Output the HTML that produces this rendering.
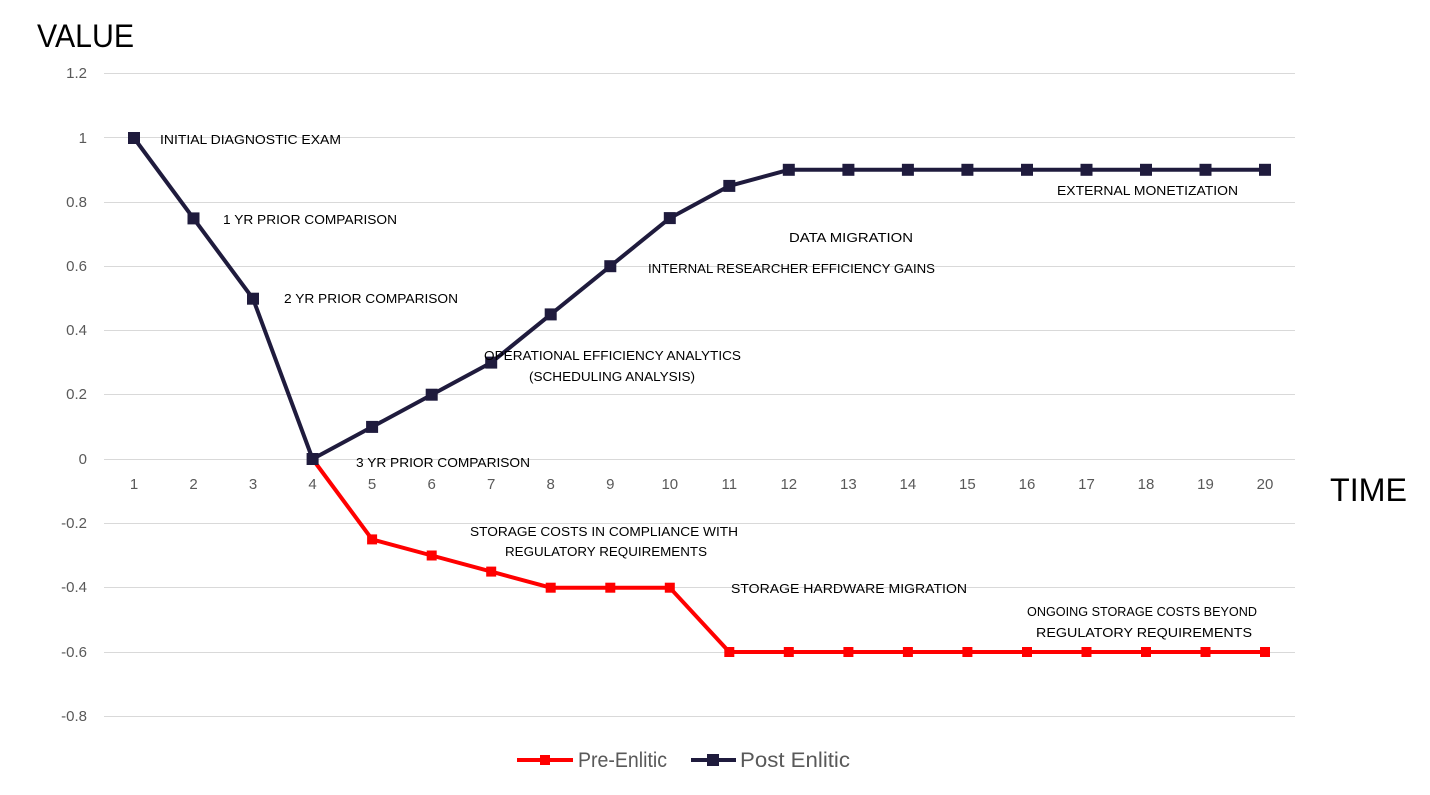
<!DOCTYPE html>
<html><head><meta charset="utf-8"><style>
html,body{margin:0;padding:0;background:#fff;}
svg{display:block;font-family:"Liberation Sans",sans-serif;}
</style></head><body>
<svg width="1430" height="795" viewBox="0 0 1430 795" xmlns="http://www.w3.org/2000/svg">
<g stroke="#d9d9d9" stroke-width="1">
<line x1="104" x2="1295" y1="73.5" y2="73.5"/>
<line x1="104" x2="1295" y1="137.5" y2="137.5"/>
<line x1="104" x2="1295" y1="202.5" y2="202.5"/>
<line x1="104" x2="1295" y1="266.5" y2="266.5"/>
<line x1="104" x2="1295" y1="330.5" y2="330.5"/>
<line x1="104" x2="1295" y1="394.5" y2="394.5"/>
<line x1="104" x2="1295" y1="459.5" y2="459.5"/>
<line x1="104" x2="1295" y1="523.5" y2="523.5"/>
<line x1="104" x2="1295" y1="587.5" y2="587.5"/>
<line x1="104" x2="1295" y1="652.5" y2="652.5"/>
<line x1="104" x2="1295" y1="716.5" y2="716.5"/>
</g>
<g fill="#595959" font-size="15" text-anchor="end">
<text x="87" y="78">1.2</text>
<text x="87" y="143">1</text>
<text x="87" y="207">0.8</text>
<text x="87" y="271">0.6</text>
<text x="87" y="335">0.4</text>
<text x="87" y="399">0.2</text>
<text x="87" y="464">0</text>
<text x="87" y="528">-0.2</text>
<text x="87" y="592">-0.4</text>
<text x="87" y="657">-0.6</text>
<text x="87" y="721">-0.8</text>
</g>
<g fill="#595959" font-size="15" text-anchor="middle">
<text x="134" y="489">1</text><text x="193.5" y="489">2</text><text x="253" y="489">3</text><text x="312.6" y="489">4</text><text x="372.1" y="489">5</text><text x="431.7" y="489">6</text><text x="491.2" y="489">7</text><text x="550.7" y="489">8</text><text x="610.3" y="489">9</text><text x="669.8" y="489">10</text><text x="729.3" y="489">11</text><text x="788.8" y="489">12</text><text x="848.4" y="489">13</text><text x="907.9" y="489">14</text><text x="967.4" y="489">15</text><text x="1027" y="489">16</text><text x="1086.5" y="489">17</text><text x="1146" y="489">18</text><text x="1205.5" y="489">19</text><text x="1265" y="489">20</text>
</g>
<text x="37" y="47" font-size="32" fill="#000" textLength="97" lengthAdjust="spacingAndGlyphs">VALUE</text>
<text x="1330" y="501" font-size="32" fill="#000" textLength="77" lengthAdjust="spacingAndGlyphs">TIME</text>

<polyline fill="none" stroke="#ff0000" stroke-width="4" stroke-linejoin="round" points="312.6,459 372.1,539.4 431.7,555.5 491.2,571.6 550.7,587.7 610.3,587.7 669.8,587.7 729.3,652 788.8,652 848.4,652 907.9,652 967.4,652 1027,652 1086.5,652 1146,652 1205.5,652 1265,652"/>
<g fill="#ff0000">
<rect x="367.1" y="534.4" width="10" height="10"/><rect x="426.7" y="550.5" width="10" height="10"/><rect x="486.2" y="566.6" width="10" height="10"/><rect x="545.7" y="582.7" width="10" height="10"/><rect x="605.3" y="582.7" width="10" height="10"/><rect x="664.8" y="582.7" width="10" height="10"/><rect x="724.3" y="647" width="10" height="10"/><rect x="783.8" y="647" width="10" height="10"/><rect x="843.4" y="647" width="10" height="10"/><rect x="902.9" y="647" width="10" height="10"/><rect x="962.4" y="647" width="10" height="10"/><rect x="1022" y="647" width="10" height="10"/><rect x="1081.5" y="647" width="10" height="10"/><rect x="1141" y="647" width="10" height="10"/><rect x="1200.5" y="647" width="10" height="10"/><rect x="1260" y="647" width="10" height="10"/>
</g>

<polyline fill="none" stroke="#1f1b3d" stroke-width="4" stroke-linejoin="round" points="134,138 193.5,218.4 253,298.7 312.6,459 372.1,426.9 431.7,394.7 491.2,362.6 550.7,314.4 610.3,266.2 669.8,218.1 729.3,185.9 788.8,169.8 848.4,169.8 907.9,169.8 967.4,169.8 1027,169.8 1086.5,169.8 1146,169.8 1205.5,169.8 1265,169.8"/>
<g fill="#1f1b3d">
<rect x="128" y="132" width="12" height="12"/><rect x="187.5" y="212.4" width="12" height="12"/><rect x="247" y="292.7" width="12" height="12"/><rect x="306.6" y="453" width="12" height="12"/><rect x="366.1" y="420.9" width="12" height="12"/><rect x="425.7" y="388.7" width="12" height="12"/><rect x="485.2" y="356.6" width="12" height="12"/><rect x="544.7" y="308.4" width="12" height="12"/><rect x="604.3" y="260.2" width="12" height="12"/><rect x="663.8" y="212.1" width="12" height="12"/><rect x="723.3" y="179.9" width="12" height="12"/><rect x="782.8" y="163.8" width="12" height="12"/><rect x="842.4" y="163.8" width="12" height="12"/><rect x="901.9" y="163.8" width="12" height="12"/><rect x="961.4" y="163.8" width="12" height="12"/><rect x="1021" y="163.8" width="12" height="12"/><rect x="1080.5" y="163.8" width="12" height="12"/><rect x="1140" y="163.8" width="12" height="12"/><rect x="1199.5" y="163.8" width="12" height="12"/><rect x="1259" y="163.8" width="12" height="12"/>
</g>

<g font-size="13" fill="#000" lengthAdjust="spacingAndGlyphs">
<text x="160" y="144" textLength="181" lengthAdjust="spacingAndGlyphs">INITIAL DIAGNOSTIC EXAM</text>
<text x="223" y="224" textLength="174" lengthAdjust="spacingAndGlyphs">1 YR PRIOR COMPARISON</text>
<text x="284" y="303" textLength="174" lengthAdjust="spacingAndGlyphs">2 YR PRIOR COMPARISON</text>
<text x="356" y="467" textLength="174" lengthAdjust="spacingAndGlyphs">3 YR PRIOR COMPARISON</text>
<text x="484" y="360" textLength="257" lengthAdjust="spacingAndGlyphs">OPERATIONAL EFFICIENCY ANALYTICS</text>
<text x="529" y="381" textLength="166" lengthAdjust="spacingAndGlyphs">(SCHEDULING ANALYSIS)</text>
<text x="648" y="273" textLength="287" lengthAdjust="spacingAndGlyphs">INTERNAL RESEARCHER EFFICIENCY GAINS</text>
<text x="789" y="242" textLength="124" lengthAdjust="spacingAndGlyphs">DATA MIGRATION</text>
<text x="1057" y="195" textLength="181" lengthAdjust="spacingAndGlyphs">EXTERNAL MONETIZATION</text>
<text x="470" y="536" textLength="268" lengthAdjust="spacingAndGlyphs">STORAGE COSTS IN COMPLIANCE WITH</text>
<text x="505" y="556" textLength="202" lengthAdjust="spacingAndGlyphs">REGULATORY REQUIREMENTS</text>
<text x="731" y="593" textLength="236" lengthAdjust="spacingAndGlyphs">STORAGE HARDWARE MIGRATION</text>
<text x="1027" y="616" textLength="230" lengthAdjust="spacingAndGlyphs">ONGOING STORAGE COSTS BEYOND</text>
<text x="1036" y="637" textLength="216" lengthAdjust="spacingAndGlyphs">REGULATORY REQUIREMENTS</text>
</g>

<line x1="517" x2="573" y1="760" y2="760" stroke="#ff0000" stroke-width="4"/>
<rect x="540" y="755" width="10" height="10" fill="#ff0000"/>
<text x="578" y="767" font-size="21" fill="#595959" textLength="89" lengthAdjust="spacingAndGlyphs">Pre-Enlitic</text>
<line x1="691" x2="736" y1="760" y2="760" stroke="#1f1b3d" stroke-width="4"/>
<rect x="707" y="754" width="12" height="12" fill="#1f1b3d"/>
<text x="740" y="767" font-size="21" fill="#595959" textLength="110" lengthAdjust="spacingAndGlyphs">Post Enlitic</text>
</svg>
</body></html>
